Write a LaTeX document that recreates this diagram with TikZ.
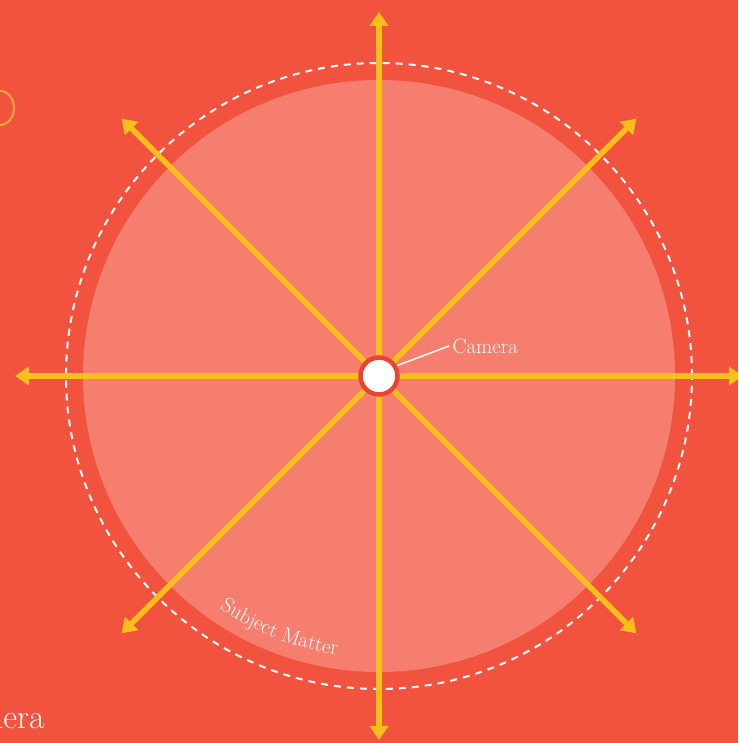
\documentclass[tikz,border=0pt]{standalone}
\usepackage{xcolor}
\usepackage{tikz}
\usetikzlibrary{arrows.meta,positioning,calc,decorations.text}
\definecolor{bgred}{HTML}{F2533E}
\definecolor{subjfill}{HTML}{F57E6E}
\definecolor{raygold}{HTML}{F7BF1A}
\definecolor{camring}{HTML}{E8442F}
\definecolor{ovalgold}{HTML}{F6A93A}

\begin{document}
\begin{tikzpicture}[
            x=1pt,y=1pt,
            dashring/.style={draw=white,line width=2pt,dash pattern=on 7pt off 6pt},
            subject/.style={fill=subjfill},
            ray/.style={-{Triangle[length=14pt,width=18pt]},draw=raygold,line width=5.5pt},
            cam/.style={circle,draw=camring,line width=4.5pt,fill=white,minimum size=37pt,inner sep=0pt},
            lbl/.style={text=white,font=\fontsize{21}{24}\selectfont}
        ]
            \useasboundingbox (0,0) rectangle (738,743);
            \clip (0,0) rectangle (738,743);
            \fill[bgred] (0,0) rectangle (738,743);

            % rings
            \coordinate (c) at (379,367);
            \fill[subject] (c) circle (296);
            \draw[dashring] (c) circle (313);

            % leftovers of the neighbouring picture
            \draw[ovalgold,line width=2pt] (0,635) ellipse (14 and 17);
            \node[anchor=base east,text=white,font=\fontsize{34}{38}\selectfont,inner sep=0pt] (oldcam) at (45,14) {Camera};

            % ray ends
            \coordinate (n) at ($(c)+(90:364)$);
            \coordinate (ne) at ($(c)+(45:364)$);
            \coordinate (e) at ($(c)+(0:364)$);
            \coordinate (se) at ($(c)+(-45:364)$);
            \coordinate (s) at ($(c)+(-90:364)$);
            \coordinate (sw) at ($(c)+(-135:364)$);
            \coordinate (w) at ($(c)+(180:364)$);
            \coordinate (nw) at ($(c)+(135:364)$);

            \draw[ray] (c) -- (n);
            \draw[ray] (c) -- (ne);
            \draw[ray] (c) -- (e);
            \draw[ray] (c) -- (se);
            \draw[ray] (c) -- (s);
            \draw[ray] (c) -- (sw);
            \draw[ray] (c) -- (w);
            \draw[ray] (c) -- (nw);

            \node[cam] (camera) at (c) {};
            \node[lbl,anchor=west] (camlbl) at (449,397) {Camera};
            \draw[white,line width=1.5pt] (camera.30) -- (camlbl.west);

            \path[decorate,decoration={text along path,text align=center,
                text={|\fontsize{21}{24}\selectfont\color{white}|Subject Matter}}]
                ($(c)+(232:282)$) arc (232:265:282);
        \end{tikzpicture}
\end{document}
